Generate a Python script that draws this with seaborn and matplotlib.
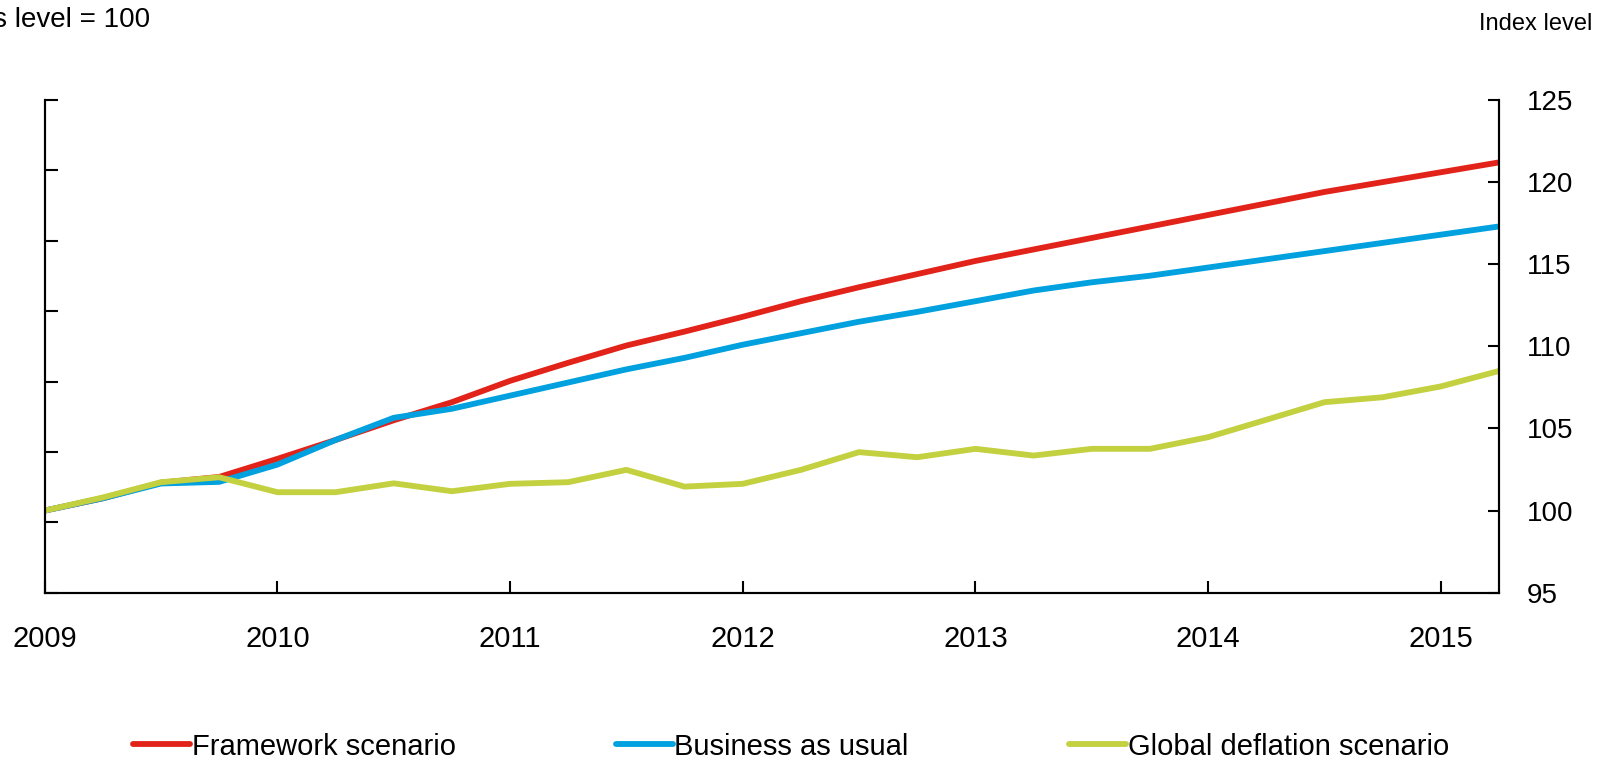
import numpy as np
import pandas as pd
import matplotlib
matplotlib.use("Agg")
import matplotlib.pyplot as plt
import seaborn as sns

# quarterly observations, 2009 Q1 .. 2015 Q2
quarters = np.arange(2009, 2015.26, 0.25)

framework = [100.0, 100.75, 101.7, 102.05, 103.15, 104.3, 105.5, 106.6,
             107.9, 109.0, 110.05, 110.9, 111.8, 112.75, 113.6, 114.4,
             115.2, 115.9, 116.6, 117.3, 118.0, 118.7, 119.4, 120.0,
             120.6, 121.2]
business_as_usual = [100.0, 100.75, 101.65, 101.75, 102.8, 104.3, 105.65, 106.2,
                     107.0, 107.8, 108.6, 109.3, 110.1, 110.8, 111.5, 112.1,
                     112.75, 113.4, 113.9, 114.3, 114.8, 115.3, 115.8, 116.3,
                     116.8, 117.3]
global_deflation = [100.0, 100.8, 101.73, 102.03, 101.12, 101.12, 101.66, 101.18,
                    101.63, 101.73, 102.48, 101.46, 101.63, 102.48, 103.56, 103.25,
                    103.76, 103.35, 103.76, 103.76, 104.47, 105.53, 106.6, 106.9,
                    107.56, 108.5]

series_names = ["Framework scenario", "Business as usual", "Global deflation scenario"]
colors = ["#E2231A", "#00A1DE", "#C3D03F"]
year_ticks = [2009, 2010, 2011, 2012, 2013, 2014, 2015]
right_ticks = [95, 100, 105, 110, 115, 120, 125]

df = pd.DataFrame({
    "quarter": np.tile(quarters, 3),
    "value": framework + business_as_usual + global_deflation,
    "series": np.repeat(series_names, len(quarters)),
})

sns.set_style("ticks")
plt.rcParams["font.family"] = ["Liberation Sans", "DejaVu Sans"]
plt.rcParams["text.color"] = "black"
plt.rcParams["xtick.color"] = "black"
plt.rcParams["ytick.color"] = "black"
plt.rcParams["xtick.labelcolor"] = "black"
plt.rcParams["ytick.labelcolor"] = "black"

fig = plt.figure(figsize=(16.08, 7.65), dpi=100)
ax = fig.add_axes([0.0278, 0.2252, 0.9044, 0.6441])

sns.lineplot(data=df, x="quarter", y="value", hue="series",
             palette=dict(zip(series_names, colors)), linewidth=4.2, ax=ax)

# left axis: ticks only, labels cut off in the source
ax2 = ax.twinx()
ax2.yaxis.tick_left()
ax2.set_ylim(0, 7)
ax2.set_yticks(range(8))
ax2.set_yticklabels([])
ax2.tick_params(axis="y", direction="in", length=9, width=1.5)
ax2.spines["top"].set_visible(False)
for side in ["left", "right", "bottom"]:
    ax2.spines[side].set_linewidth(1.5)
    ax2.spines[side].set_color("black")

ax.set_xlim(2009, 2015.25)
ax.set_ylim(95, 125)
ax.set_xticks(year_ticks)
ax.set_xticklabels([str(y) for y in year_ticks])
ax.set_yticks(right_ticks)
ax.yaxis.tick_right()
ax.set_xlabel("")
ax.set_ylabel("")
ax.tick_params(axis="x", direction="in", length=9, width=1.5, labelsize=21, pad=23)
ax.tick_params(axis="y", direction="in", length=8, width=1.5, labelsize=20, pad=20)
for side in ["left", "right", "bottom"]:
    ax.spines[side].set_linewidth(1.5)
    ax.spines[side].set_color("black")
ax.spines["top"].set_visible(False)

handles, labels = ax.get_legend_handles_labels()
ax.get_legend().remove()
fig.legend(handles, labels, loc="center", bbox_to_anchor=(0.492, 0.024), ncol=3,
           frameon=False, fontsize=21, handlelength=1.95, handletextpad=0.05,
           columnspacing=5.5)

fig.text(0.0933, 0.974, "Index, Q1 2009's level = 100", ha="right", va="center", fontsize=20)
fig.text(0.990, 0.969, "Index level", ha="right", va="center", fontsize=17)

fig.savefig("out.png", dpi=100)
